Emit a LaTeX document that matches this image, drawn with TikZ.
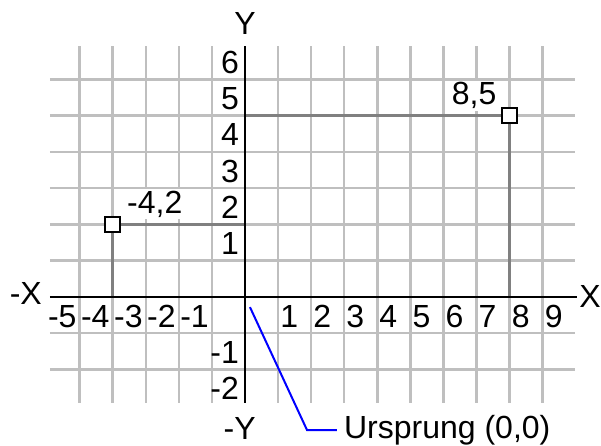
\documentclass[tikz,border=0pt]{standalone}
\usepackage{fontspec}
\setmainfont{Liberation Sans}
\usepackage{tikz}
\usetikzlibrary{calc, positioning}

\begin{document}
\begin{tikzpicture}[x=33.07pt, y=36.25pt,
    gridline/.style={line width=2.5pt, black!25},
    projline/.style={line width=2.5pt, black!50},
    axisline/.style={line width=2.6pt, black},
    ticklabel/.style={inner sep=0pt, font=\fontsize{32}{38}\selectfont},
    pointlabel/.style={inner sep=2pt, fill=white, font=\fontsize{32}{38}\selectfont},
    pointbox/.style={draw, line width=2pt, fill=white, minimum size=15pt, inner sep=0pt}]
    \useasboundingbox (-7.409,-4.110) rectangle (10.765,8.193);
    % Vẽ lưới
    \foreach \i in {-5,-4,-3,-2,-1,1,2,3,4,5,6,7,8,9}
        \draw[gridline] (\i,-2.92) -- (\i,6.92);
    \foreach \j in {-2,-1,1,2,3,4,5,6}
        \draw[gridline] (-5.9,\j) -- (9.98,\j);

    % Hai điểm
    \coordinate (O) at (0,0);
    \node[pointbox] (A) at (-4,2) {};
    \node[pointbox] (B) at (8,5) {};
    \draw[projline] (A) -- (A -| O);
    \draw[projline] (A) -- (A |- O);
    \draw[projline] (B) -- (B -| O);
    \draw[projline] (B) -- (B |- O);

    % Vẽ hệ trục
    \coordinate (xa) at (-5.9,0);
    \coordinate (xb) at (10.05,0);
    \coordinate (ya) at (0,-2.92);
    \coordinate (yb) at (0,6.92);
    \draw[axisline] (xa) -- (xb);
    \draw[axisline] (ya) -- (yb);
    \node[ticklabel, anchor=base] (Y) at (0,7.23) {Y};
    \node[ticklabel, anchor=base east] (mY) at (0.33,-3.94) {-Y};
    \node[ticklabel, anchor=base] (X) at (10.43,-0.30) {X};
    \node[ticklabel, anchor=base east] (mX) at (-6.14,-0.22) {-X};

    % Số trên trục
    \foreach \i in {1,...,9}
        \node[ticklabel, anchor=base west] (xp\i) at ([xshift=2pt]\i,-0.83) {\i};
    \foreach \i in {1,...,5}
        \node[ticklabel, anchor=base east] (xm\i) at ([xshift=-3pt]-\i,-0.83) {-\i};
    \foreach \i in {1,...,6}
        \node[ticklabel, anchor=base east] (yp\i) at ([xshift=-6pt]0,\i+0.166) {\i};
    \foreach \i in {1,2}
        \node[ticklabel, anchor=base east] (ym\i) at ([xshift=-6pt]0,-\i-0.83) {-\i};

    % Nhãn các điểm
    \node[pointlabel, anchor=base west] (Alabel) at (-3.63,2.317) {-4,2};
    \node[pointlabel, anchor=base west] (Blabel) at (6.19,5.30) {8,5};

    % Gốc toạ độ
    \coordinate (U1) at (0.15,-0.28);
    \coordinate (U2) at (1.875,-3.67);
    \node[ticklabel, anchor=west, inner xsep=7pt] (U) at (2.78,-3.67) {Ursprung (0,0)};
    \draw[blue, line width=2pt] (U1) -- (U2) -- (U.west);
\end{tikzpicture}
\end{document}
